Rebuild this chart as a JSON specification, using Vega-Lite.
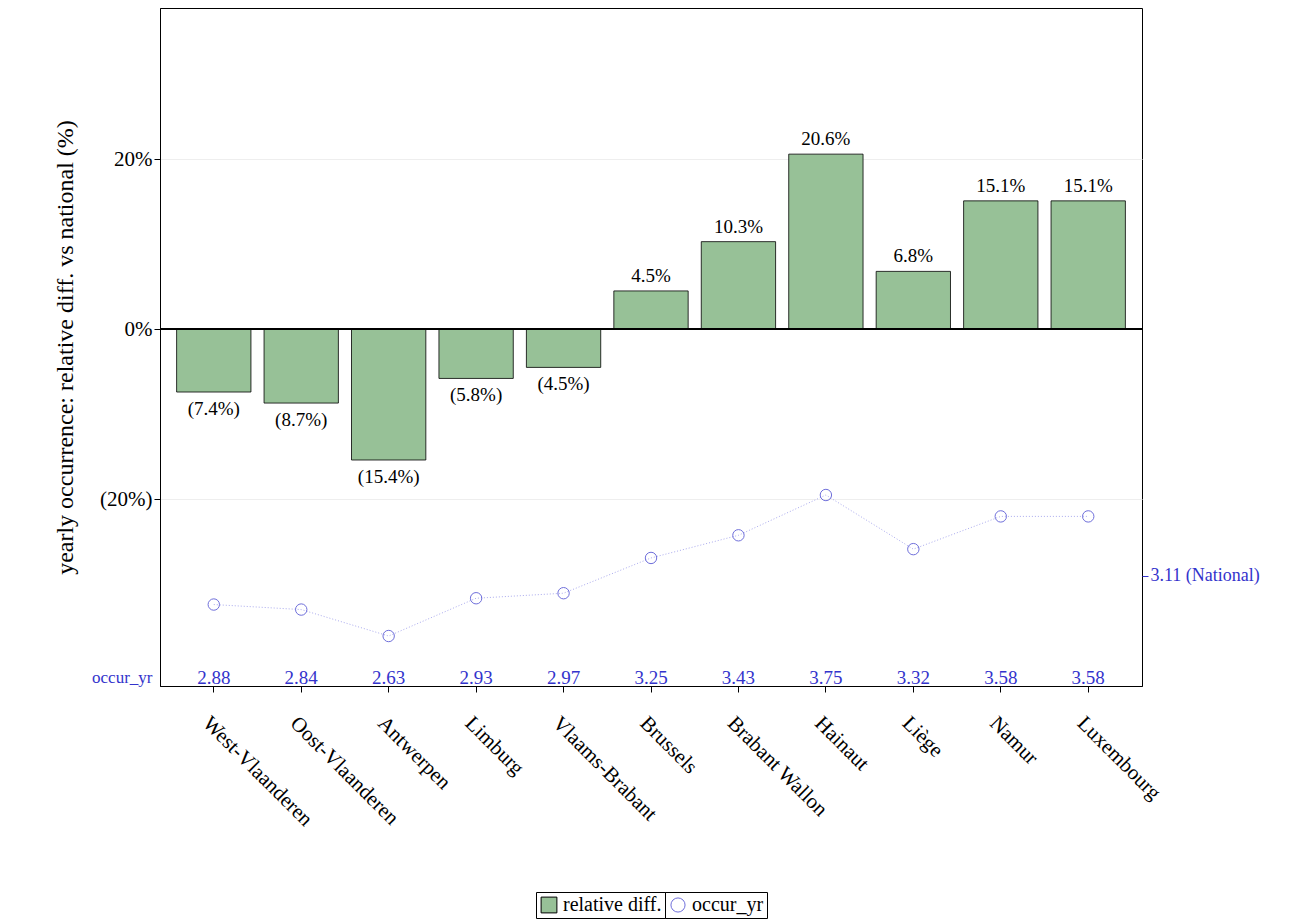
{
  "$schema": "https://vega.github.io/schema/vega-lite/v6.json",
  "autosize": {"type": "none"},
  "padding": {"left": 160, "top": 8, "right": 166, "bottom": 237},
  "width": 982,
  "height": 678,
  "config": {
    "font": "Liberation Serif",
    "view": {"stroke": "black", "strokeWidth": 1},
    "axis": {"labelFont": "Liberation Serif", "titleFont": "Liberation Serif", "titleFontWeight": "normal"},
    "legend": {"layout": {"bottom": {"anchor": "middle", "direction": "horizontal", "margin": 0}}}
  },
  "data": {"values": [
    {"region": "West-Vlaanderen", "diff": -7.4, "occ": 2.88, "label": "(7.4%)"},
    {"region": "Oost-Vlaanderen", "diff": -8.7, "occ": 2.84, "label": "(8.7%)"},
    {"region": "Antwerpen", "diff": -15.4, "occ": 2.63, "label": "(15.4%)"},
    {"region": "Limburg", "diff": -5.8, "occ": 2.93, "label": "(5.8%)"},
    {"region": "Vlaams-Brabant", "diff": -4.5, "occ": 2.97, "label": "(4.5%)"},
    {"region": "Brussels", "diff": 4.5, "occ": 3.25, "label": "4.5%"},
    {"region": "Brabant Wallon", "diff": 10.3, "occ": 3.43, "label": "10.3%"},
    {"region": "Hainaut", "diff": 20.6, "occ": 3.75, "label": "20.6%"},
    {"region": "Liège", "diff": 6.8, "occ": 3.32, "label": "6.8%"},
    {"region": "Namur", "diff": 15.1, "occ": 3.58, "label": "15.1%"},
    {"region": "Luxembourg", "diff": 15.1, "occ": 3.58, "label": "15.1%"}
  ]},
  "encoding": {
    "x": {
      "field": "region", "type": "nominal", "sort": null, "title": null,
      "scale": {"paddingInner": 0.15, "paddingOuter": 0.19},
      "axis": {"labelAngle": 45, "labelFontSize": 21, "labelColor": "black", "tickColor": "black", "domainColor": "black", "labelPadding": 20, "tickSize": 6}
    }
  },
  "layer": [
    {
      "layer": [
        {
          "mark": {"type": "bar", "stroke": "black", "strokeWidth": 0.8},
          "encoding": {
            "y": {
              "field": "diff", "type": "quantitative",
              "scale": {"domain": [-42, 37.8], "nice": false, "zero": false},
              "title": "yearly occurrence: relative diff. vs national (%)",
              "axis": {
                "values": [-41, -20, 0, 20],
                "labelExpr": "datum.value < -30 ? 'occur_yr' : datum.value < 0 ? '(' + abs(datum.value) + '%)' : datum.value + '%'",
                "labelFontSize": {"condition": {"test": "datum.value < -30", "value": 17}, "value": 21},
                "labelColor": {"condition": {"test": "datum.value < -30", "value": "#3333cc"}, "value": "black"},
                "tickOpacity": {"condition": {"test": "datum.value < -30", "value": 0}, "value": 1},
                "gridOpacity": {"condition": {"test": "datum.value < -30 || datum.value == 0", "value": 0}, "value": 1},
                "grid": true, "gridColor": "#eeeeee",
                "tickColor": "black", "domainColor": "black", "tickSize": 6,
                "titleFontSize": 24, "titleColor": "black", "titlePadding": 14
              }
            },
            "fill": {
              "datum": "relative diff.",
              "scale": {"domain": ["relative diff."], "range": ["#97c197"]},
              "legend": {
                "title": null, "orient": "bottom", "labelFontSize": 20, "symbolType": "square",
                "symbolSize": 250, "symbolStrokeColor": "black", "symbolStrokeWidth": 1,
                "offset": 62, "strokeColor": "black", "padding": 3
              }
            }
          }
        },
        {
          "transform": [{"filter": "datum.diff > 0"}],
          "mark": {"type": "text", "baseline": "bottom", "dy": -5, "fontSize": 19},
          "encoding": {"y": {"field": "diff", "type": "quantitative"}, "text": {"field": "label"}}
        },
        {
          "transform": [{"filter": "datum.diff < 0"}],
          "mark": {"type": "text", "baseline": "top", "dy": 8, "fontSize": 19},
          "encoding": {"y": {"field": "diff", "type": "quantitative"}, "text": {"field": "label"}}
        },
        {
          "mark": {"type": "rule", "color": "black", "strokeWidth": 1},
          "encoding": {"y": {"datum": 0}, "x": {"value": 0}, "x2": {"value": 982}}
        }
      ]
    },
    {
      "layer": [
        {
          "mark": {"type": "line", "color": "#aaaaee", "strokeDash": [1, 2], "strokeWidth": 1},
          "encoding": {
            "y": {
              "field": "occ", "type": "quantitative",
              "scale": {"domain": [2.233, 7.618], "nice": false, "zero": false},
              "title": null,
              "axis": {
                "orient": "right", "values": [3.11], "labelExpr": "'3.11 (National)'",
                "labelColor": "#3333cc", "labelFontSize": 18, "tickColor": "#3333cc",
                "domain": false, "grid": false, "tickSize": 6
              }
            }
          }
        },
        {
          "mark": {"type": "point", "filled": false, "color": "#3333cc", "size": 130, "strokeWidth": 1},
          "encoding": {
            "y": {"field": "occ", "type": "quantitative"},
            "shape": {
              "datum": "occur_yr",
              "scale": {"domain": ["occur_yr"], "range": ["circle"]},
              "legend": {
                "title": null, "orient": "bottom", "labelFontSize": 20,
                "symbolSize": 200, "symbolStrokeColor": "#3333cc", "symbolFillColor": "white",
                "symbolStrokeWidth": 1, "offset": 62, "strokeColor": "black", "padding": 3
              }
            }
          }
        },
        {
          "mark": {"type": "text", "color": "#3333cc", "fontSize": 19},
          "encoding": {
            "y": {"datum": 2.3},
            "text": {"field": "occ", "type": "quantitative", "format": ".2f"}
          }
        }
      ]
    }
  ],
  "resolve": {"scale": {"y": "independent"}}
}
